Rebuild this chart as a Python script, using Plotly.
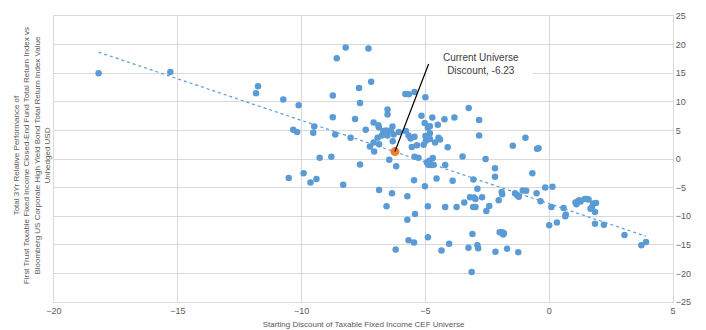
import numpy as np
import plotly.graph_objects as go

# Starting discount (x) and 3Yr relative performance (y) of each month
disc = [-18.2, -15.3, -11.76, -11.84, -10.74, -10.12, -10.34, -10.18, -9.49, -9.53,
        -8.64, -8.74, -8.74, -8.58, -8.22, -7.3, -7.19, -7.68, -7.64, -7.84,
        -7.41, -7.09, -6.9, -8.02, -6.93, -7.09, -7.24, -7.07, -6.87, -9.27,
        -8.8, -7.64, -10.52, -9.92, -9.64, -9.4, -8.32, -6.87,
        -5.81, -5.67, -5.44, -5.0, -6.53, -6.53, -5.16, -4.72, -4.23, -3.83,
        -3.25, -2.83, -2.83, -6.88, -6.33, -5.03, -4.9, -4.82, -4.5, -6.7,
        -6.58, -6.4, -6.07, -5.79, -6.76, -6.53, -6.28, -5.68, -5.44, -5.6,
        -5.0, -4.82, -4.98, -4.82, -4.47, -4.41, -4.61, -4.1, -6.32, -5.55,
        -5.34, -5.07, -6.46, -6.18, -3.5, -2.57, -1.47, -0.96, -0.49, -0.43,
        -5.44, -5.28, -4.94, -4.7, -4.88, -4.2, -4.8, -4.67, -4.84,
        -5.46, -4.55, -3.9, -5.02, -3.06, -6.35, -5.73, -6.57, -4.9, -4.2,
        -3.74, -3.43, -3.2, -3.04, -3.07, -2.98, -2.9, -2.98, -2.71, -5.73,
        -5.42, -3.1, -5.68, -5.46, -4.9, -6.2, -4.35, -4.04, -3.26, -2.9,
        -2.87, -3.13, -2.19, -2.19, -0.68, -2.54, -2.42, -2.04, -1.92, -1.9,
        -1.38, -1.3, -1.23, -1.07, -0.93, -0.51, -0.35, -0.16, 0.13, 0.09,
        0.58, 0.67, 0.65, 0.0, 0.31, 1.06, 1.1, 1.16, 1.21, 1.27,
        1.44, 1.52, 1.59, 1.67, 1.73, 1.78, 1.89, 1.85, 1.85, 2.21,
        3.04, 3.72, 3.91, -2.17, -2.0, -1.9, -1.83, -1.86, -1.7, -1.25]
perf = [15.0, 15.2, 12.7, 11.5, 10.4, 9.4, 5.1, 4.7, 5.7, 4.6,
        4.3, 7.3, 11.1, 17.6, 19.5, 19.3, 13.5, 12.4, 9.8, 7.0,
        5.1, 6.4, 5.9, 3.7, 3.7, 2.9, 2.2, 1.3, 2.6, 0.2,
        0.4, -0.95, -3.3, -2.5, -4.1, -3.5, -4.5, -5.4,
        11.35, 11.3, 11.7, 10.8, 8.66, 7.8, 7.55, 7.26, 6.96, 7.26,
        8.9, 6.8, 4.1, 5.55, 5.68, 6.3, 5.45, 5.73, 6.0, 4.9,
        5.0, 5.0, 4.7, 4.9, 4.1, 4.1, 4.3, 4.1, 3.9, 3.6,
        4.0, 4.5, 3.2, 3.5, 3.7, 3.4, 2.9, 2.04, 3.1, 2.1,
        2.4, 2.5, -0.15, -1.25, 0.43, 0.0, 2.3, 3.7, 1.8, 1.86,
        0.4, 0.2, -0.6, 0.18, -1.0, -1.05, -1.05, -1.0, -0.3,
        -3.7, -3.4, -3.8, -4.75, -3.6, -6.0, -6.5, -8.26, -8.26, -8.4,
        -8.4, -7.6, -6.7, -6.75, -8.4, -8.4, -5.2, -7.0, -6.7, -10.6,
        -9.6, -13.1, -14.2, -14.6, -13.7, -15.8, -16.0, -14.8, -15.5, -15.1,
        -15.6, -19.75, -1.6, -3.1, -2.5, -9.1, -8.2, -7.2, -5.75, -6.15,
        -6.0, -6.3, -6.6, -5.5, -5.57, -6.0, -7.4, -5.0, -4.87, -8.4,
        -8.56, -9.7, -10.0, -11.6, -11.1, -7.6, -7.9, -7.4, -7.2, -7.45,
        -7.0, -7.0, -7.1, -8.7, -8.4, -7.8, -7.7, -9.26, -11.3, -11.5,
        -13.3, -15.1, -14.5, -16.2, -12.8, -12.8, -13.0, -13.2, -15.7, -16.3]

current_disc = [-6.23]
current_perf = [1.3]
current_label = "Current Universe<br>Discount, -6.23"

x_ticks = [-20, -15, -10, -5, 0, 5]
y_ticks = [-25, -20, -15, -10, -5, 0, 5, 10, 15, 20, 25]

x_title = "Starting Discount of Taxable Fixed Income CEF Universe"
y_title = ("Total 3Yr Relative Performance of<br>"
           "First Trust Taxable Fixed Income Closed-End Fund Total Return Index vs<br>"
           "Bloomberg US Corporate High Yield Bond Total Return Index Value<br>"
           "Unhedged USD")

BLUE = "#5B9BD5"
ORANGE = "#ED7D31"
GRID = "#D9D9D9"
TXT = "#595959"
FONT = "Liberation Sans"

slope, intercept = np.polyfit(disc, perf, 1)
tx = np.array([min(disc), max(disc)])
ty = slope * tx + intercept

fig = go.Figure()
fig.add_trace(go.Scatter(x=tx, y=ty, mode="lines",
                         line=dict(color=BLUE, width=1.2, dash="dot"),
                         hoverinfo="skip", showlegend=False))
fig.add_trace(go.Scatter(x=disc, y=perf, mode="markers",
                         marker=dict(color=BLUE, size=6.5, line=dict(width=0)),
                         showlegend=False))
fig.add_trace(go.Scatter(x=current_disc, y=current_perf, mode="markers",
                         marker=dict(color=ORANGE, size=9, line=dict(width=0)),
                         showlegend=False))

fig.add_annotation(x=current_disc[0], y=current_perf[0], xref="x", yref="y",
                   ax=-4.87, ay=16.6, axref="x", ayref="y",
                   text=current_label, showarrow=True, arrowhead=0,
                   arrowwidth=1.2, arrowcolor="#000000",
                   xanchor="left", align="center",
                   bgcolor="#FFFFFF", width=96, height=30, borderpad=3,
                   font=dict(family=FONT, size=10, color="#404040"))

fig.add_annotation(x=0, y=0.51, xref="paper", yref="paper", xshift=-22,
                   text=y_title, showarrow=False, textangle=-90,
                   xanchor="center", yanchor="middle", align="center",
                   font=dict(family=FONT, size=8, color=TXT))

# page body has an 8px default margin; compensate so the plot area lands where intended
fig.update_layout(
    width=698, height=322,
    margin=dict(l=46, r=33, t=3, b=26),
    paper_bgcolor="#FFFFFF", plot_bgcolor="#FFFFFF",
    font=dict(family=FONT, size=9, color=TXT),
    xaxis=dict(range=[-20, 5], tickvals=x_ticks, showgrid=True, gridcolor=GRID,
               gridwidth=1, zeroline=False, showline=True, linecolor=GRID,
               mirror=True, ticks="", tickfont=dict(size=9, color=TXT),
               ticklabeloverflow="allow",
               title=dict(text=x_title, font=dict(size=8, color=TXT), standoff=6)),
    yaxis=dict(range=[-25, 25], tickvals=y_ticks, side="right", showgrid=True,
               gridcolor=GRID, gridwidth=1, zeroline=False, showline=True,
               linecolor=GRID, mirror=True, ticks="",
               ticklabeloverflow="allow",
               tickfont=dict(size=9, color=TXT)),
)

fig.write_html("out.html")
